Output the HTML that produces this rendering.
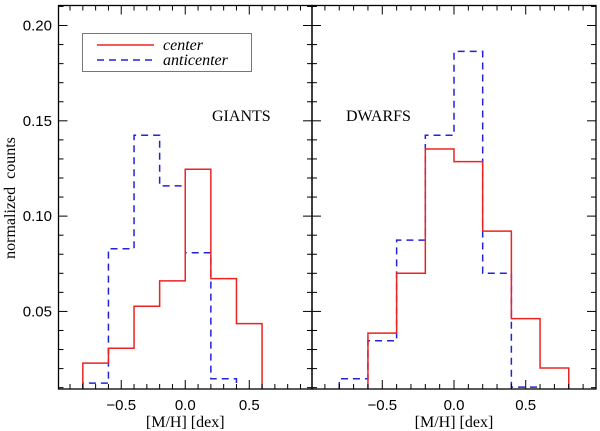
<!DOCTYPE html>
<html><head><meta charset="utf-8"><style>
body{margin:0;background:#fff}
svg{display:block}
.tl{font-family:"Liberation Sans",sans-serif;font-size:15px}
.sf{font-family:"Liberation Serif",serif;font-size:16px}
</style></head><body>
<svg id="c" width="600" height="431" viewBox="0 0 600 431"></svg>
<script>
const binEdges=[-0.8,-0.6,-0.4,-0.2,0.0,0.2,0.4,0.6,0.8];
const giantsCenter=[0.0229,0.0307,0.0527,0.066,0.1246,0.0672,0.0436];
const giantsAnti=[0.0124,0.0829,0.1424,0.1159,0.0808,0.0147];
const dwarfsCenter=[null,0.0386,0.07,0.1352,0.1286,0.0921,0.0462,0.0203];
const dwarfsAnti=[0.0147,0.0346,0.0874,0.1424,0.1864,0.07,0.0103];
const yTicks=[0.05,0.10,0.15,0.20];
const yTickLabels=["0.05","0.10","0.15","0.20"];
const xTicks=[-0.5,0.0,0.5];
const xTickLabels=["\u22120.5","0.0","0.5"];
const NS="http://www.w3.org/2000/svg";
const svg=document.getElementById('c');
const Y0=389,Y1=5.5,YMIN=0.0093,YMAX=0.2105;
const yS=v=>Y0-(v-YMIN)/(YMAX-YMIN)*(Y0-Y1);
function mk(t,a,p){const e=document.createElementNS(NS,t);for(const k in a)e.setAttribute(k,a[k]);(p||svg).appendChild(e);return e;}
const panels=[
 {name:'giants',x0:58.5,x1:312,c:giantsCenter,a:giantsAnti,label:'GIANTS',lx:212,ly:121},
 {name:'dwarfs',x0:312,x1:596,c:dwarfsCenter,a:dwarfsAnti,label:'DWARFS',lx:346,ly:121}
];
panels.forEach(P=>{
 const xS=v=>P.x0+(v+0.99)/1.98*(P.x1-P.x0);
 const g=mk('g',{});
 
 
 function hist(vals,color,dash,nm){
  let d='';let started=false;let prev=null;
  for(let i=0;i<vals.length;i++){
   const v=vals[i];if(v==null){continue;}
   const xa=xS(binEdges[i]),xb=xS(binEdges[i+1]),y=yS(v);
   if(!started){d+='M'+xa+','+Y0+'L'+xa+','+y;started=true;}else d+='L'+xa+','+y;
   d+='L'+xb+','+y;prev=xb;
  }
  d+='L'+prev+','+Y0;
  const p=mk('path',{d:d,fill:'none',stroke:color,'stroke-width':1.5,'stroke-dasharray':dash||'none'},g);
  
  
 }
 hist(P.a,'#2222dd','7,5',P.name+'-anticenter-histogram');
 hist(P.c,'#ee2222',null,P.name+'-center-histogram');
 const r=mk('rect',{x:P.x0,y:Y1,width:P.x1-P.x0,height:Y0-Y1,fill:'none',stroke:'#000','stroke-width':1.3},g);
 
 
 for(let k=-9;k<=9;k++){
  const v=k/10,x=xS(v),len=(k%5===0)?9:5;
  mk('line',{x1:x,x2:x,y1:Y0,y2:Y0-len,stroke:'#000','stroke-width':1},g);
  mk('line',{x1:x,x2:x,y1:Y1,y2:Y1+len,stroke:'#000','stroke-width':1},g);
 }
 xTicks.forEach((v,i)=>{
  const t=mk('text',{x:xS(v),y:410,'text-anchor':'middle',class:'tl'},g);
  t.textContent=xTickLabels[i];
  
  
 });
 for(let k=1;k<=21;k++){
  const v=k/100;if(v<YMIN||v>YMAX)continue;
  const y=yS(v),len=(k%5===0)?9:5;
  mk('line',{x1:P.x0,x2:P.x0+len,y1:y,y2:y,stroke:'#000','stroke-width':1},g);
  mk('line',{x1:P.x1,x2:P.x1-len,y1:y,y2:y,stroke:'#000','stroke-width':1},g);
 }
 const xl=mk('text',{x:(P.x0+P.x1)/2,y:427,'text-anchor':'middle',class:'sf'},g);
 xl.textContent='[M/H] [dex]';
 
 
 const pl=mk('text',{x:P.lx,y:P.ly,class:'sf','font-size':'13'},g);
 pl.textContent=P.label;
 
 
});
yTicks.forEach((v,i)=>{
 const t=mk('text',{x:52,y:yS(v)+5,'text-anchor':'end',class:'tl'});
 t.textContent=yTickLabels[i];
 
 
});
const yl=mk('text',{x:0,y:0,'text-anchor':'middle',class:'sf','word-spacing':'4',transform:'translate(15,198) rotate(-90)'});
yl.textContent='normalized counts';


const lg=mk('g',{});


mk('rect',{x:82.5,y:33.5,width:169,height:38,fill:'#fff',stroke:'#777','stroke-width':1},lg);
mk('line',{x1:97,x2:154,y1:45,y2:45,stroke:'#ee2222','stroke-width':1.5},lg);
mk('line',{x1:97,x2:154,y1:60,y2:60,stroke:'#2222dd','stroke-width':1.5,'stroke-dasharray':'7,5'},lg);
const t1=mk('text',{x:163,y:50,class:'sf','font-style':'italic'},lg);t1.textContent='center';


const t2=mk('text',{x:163,y:65,class:'sf','font-style':'italic'},lg);t2.textContent='anticenter';


</script>
</body></html>
